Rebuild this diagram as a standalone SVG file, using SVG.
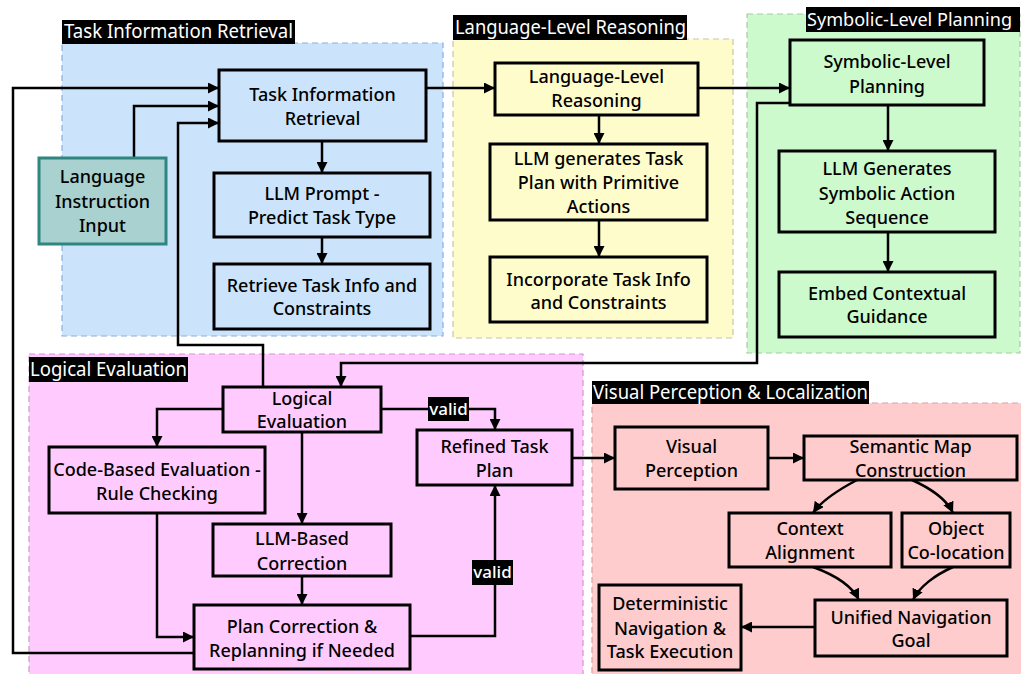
<svg xmlns="http://www.w3.org/2000/svg" width="1021" height="674" viewBox="0 0 1021 674">
<defs>
<marker id="ah" viewBox="0 0 10 10" refX="10" refY="5" markerWidth="11" markerHeight="11" markerUnits="userSpaceOnUse" orient="auto">
<path d="M0,0 L10,5 L0,10 z" fill="#000"/>
</marker>
<style>
.cl{stroke-width:1.2;stroke-dasharray:6 4}
.nd{stroke:#000;stroke-width:3}
.t{font-family:"Noto Sans","Open Sans","DejaVu Sans",sans-serif;font-size:18px;font-weight:500;fill:#000;text-anchor:middle}
.tt{font-family:"Noto Sans","Open Sans","DejaVu Sans",sans-serif;font-size:19px;fill:#fff}
.cn path{fill:none;stroke:#000;stroke-width:2.5;marker-end:url(#ah)}
.vl{font-family:"Noto Sans","Open Sans","DejaVu Sans",sans-serif;font-size:17px;font-weight:500;fill:#fff;text-anchor:middle}
</style>
</defs>
<rect width="1021" height="674" fill="#fff"/>
<g id="clusters">
<rect class="cl" x="62" y="43" width="381" height="293" fill="#cce4fb" stroke="#86b0dc"/>
<rect class="cl" x="453" y="39" width="280" height="299" fill="#fffccc" stroke="#c9c3a4"/>
<rect class="cl" x="747" y="14" width="273" height="339" fill="#ccfacc" stroke="#a7c9a7"/>
<rect class="cl" x="29" y="354" width="554" height="330" fill="#ffcbff" stroke="#c99ac9"/>
<rect class="cl" x="592" y="403" width="440" height="290" fill="#fecccc" stroke="#d7a4a4"/>
</g>
<g id="cluster-labels">
<rect x="62" y="20" width="233" height="24" fill="#000"/>
<text class="tt" x="64" y="38" textLength="229" lengthAdjust="spacingAndGlyphs">Task Information Retrieval</text>
<rect x="453" y="15" width="234" height="25" fill="#000"/>
<text class="tt" x="455" y="34" textLength="231" lengthAdjust="spacingAndGlyphs">Language-Level Reasoning</text>
<rect x="806" y="7" width="214" height="25" fill="#000"/>
<text class="tt" x="807" y="26" style="font-size:18px" textLength="205" lengthAdjust="spacingAndGlyphs">Symbolic-Level Planning</text>
<rect x="29" y="357" width="159" height="25" fill="#000"/>
<text class="tt" x="30" y="376" textLength="157" lengthAdjust="spacingAndGlyphs">Logical Evaluation</text>
<rect x="592" y="381" width="277" height="23" fill="#000"/>
<text class="tt" x="593" y="399" textLength="275" lengthAdjust="spacingAndGlyphs">Visual Perception &amp; Localization</text>
</g>
<g id="connectors" class="cn">
<path d="M134,158 V106 H219"/>
<path d="M194,653 H13 V88 H219"/>
<path d="M263,387 V345 H178 V123 H219"/>
<path d="M322,141 V173"/>
<path d="M322,237 V264"/>
<path d="M426,88 H495"/>
<path d="M599,115 V144"/>
<path d="M599,220 V257"/>
<path d="M698,88 H790"/>
<path d="M888,105 V151"/>
<path d="M888,232 V272"/>
<path d="M790,103 H757 V363 H341 V387"/>
<path d="M223,409 H157 V447"/>
<path d="M302,432 V524"/>
<path d="M302,576 V605"/>
<path d="M157,513 V637 H194"/>
<path d="M381,409 H495 V430"/>
<path d="M410,636 H495 V485"/>
<path d="M572,458 H615"/>
<path d="M768,458 H804"/>
<path d="M857,480 C838,490 822,500 813,513"/>
<path d="M912,480 C932,489 947,500 953,513"/>
<path d="M813,567 C835,575 852,586 859,600"/>
<path d="M953,567 C935,575 919,587 913,600"/>
<path d="M815,627 H741"/>
</g>
<g id="edge-labels">
<rect x="428" y="397" width="41" height="24" fill="#000"/>
<text class="vl" x="448.5" y="415">valid</text>
<rect x="472" y="560" width="41" height="25" fill="#000"/>
<text class="vl" x="492.5" y="578">valid</text>
</g>
<g id="n-tir"><rect class="nd" x="219" y="70" width="207" height="71" fill="#cce4fb"/><text class="t" x="322.5" y="101">Task Information</text><text class="t" x="322.5" y="125">Retrieval</text></g>
<g id="n-prompt"><rect class="nd" x="214" y="173" width="216" height="64" fill="#cce4fb"/><text class="t" x="322" y="200">LLM Prompt -</text><text class="t" x="322" y="224">Predict Task Type</text></g>
<g id="n-retrieve"><rect class="nd" x="214" y="264" width="216" height="65" fill="#cce4fb"/><text class="t" x="322" y="292">Retrieve Task Info and</text><text class="t" x="322" y="315">Constraints</text></g>
<g id="n-input"><rect x="39" y="158" width="127" height="86" fill="#a9d1cf" stroke="#2f8580" stroke-width="3"/><text class="t" x="102.5" y="183">Language</text><text class="t" x="102.5" y="208">Instruction</text><text class="t" x="102.5" y="232">Input</text></g>
<g id="n-llr"><rect class="nd" x="495" y="63" width="203" height="52" fill="#fffccc"/><text class="t" x="596.5" y="83">Language-Level</text><text class="t" x="596.5" y="107">Reasoning</text></g>
<g id="n-gen"><rect class="nd" x="490" y="144" width="217" height="76" fill="#fffccc"/><text class="t" x="598.5" y="165">LLM generates Task</text><text class="t" x="598.5" y="189">Plan with Primitive</text><text class="t" x="598.5" y="213">Actions</text></g>
<g id="n-incorp"><rect class="nd" x="490" y="257" width="217" height="65" fill="#fffccc"/><text class="t" x="598.5" y="286">Incorporate Task Info</text><text class="t" x="598.5" y="309">and Constraints</text></g>
<g id="n-slp"><rect class="nd" x="790" y="40" width="194" height="65" fill="#ccfacc"/><text class="t" x="887" y="68">Symbolic-Level</text><text class="t" x="887" y="93">Planning</text></g>
<g id="n-sym"><rect class="nd" x="779" y="151" width="216" height="81" fill="#ccfacc"/><text class="t" x="887" y="175">LLM Generates</text><text class="t" x="887" y="200">Symbolic Action</text><text class="t" x="887" y="224">Sequence</text></g>
<g id="n-embed"><rect class="nd" x="779" y="272" width="216" height="65" fill="#ccfacc"/><text class="t" x="887" y="300">Embed Contextual</text><text class="t" x="887" y="323">Guidance</text></g>
<g id="n-le"><rect class="nd" x="223" y="387" width="158" height="45" fill="#ffcbff"/><text class="t" x="302" y="405">Logical</text><text class="t" x="302" y="428">Evaluation</text></g>
<g id="n-code"><rect class="nd" x="49" y="447" width="216" height="66" fill="#ffcbff"/><text class="t" x="157" y="476">Code-Based Evaluation -</text><text class="t" x="157" y="500">Rule Checking</text></g>
<g id="n-llmcorr"><rect class="nd" x="213" y="524" width="178" height="52" fill="#ffcbff"/><text class="t" x="302" y="545">LLM-Based</text><text class="t" x="302" y="570">Correction</text></g>
<g id="n-pc"><rect class="nd" x="194" y="605" width="216" height="64" fill="#ffcbff"/><text class="t" x="302" y="633">Plan Correction &amp;</text><text class="t" x="302" y="657">Replanning if Needed</text></g>
<g id="n-refined"><rect class="nd" x="417" y="430" width="155" height="55" fill="#ffcbff"/><text class="t" x="494.5" y="453">Refined Task</text><text class="t" x="494.5" y="477">Plan</text></g>
<g id="n-vp"><rect class="nd" x="615" y="427" width="153" height="62" fill="#fecccc"/><text class="t" x="691.5" y="453">Visual</text><text class="t" x="691.5" y="477">Perception</text></g>
<g id="n-smc"><rect class="nd" x="804" y="436" width="213" height="44" fill="#fecccc"/><text class="t" x="910.5" y="453">Semantic Map</text><text class="t" x="910.5" y="477">Construction</text></g>
<g id="n-ctx"><rect class="nd" x="729" y="513" width="162" height="54" fill="#fecccc"/><text class="t" x="810" y="535">Context</text><text class="t" x="810" y="559">Alignment</text></g>
<g id="n-obj"><rect class="nd" x="902" y="513" width="108" height="54" fill="#fecccc"/><text class="t" x="956" y="535">Object</text><text class="t" x="956" y="559">Co-location</text></g>
<g id="n-ung"><rect class="nd" x="815" y="600" width="192" height="56" fill="#fecccc"/><text class="t" x="911" y="624">Unified Navigation</text><text class="t" x="911" y="647">Goal</text></g>
<g id="n-det"><rect class="nd" x="599" y="585" width="142" height="85" fill="#fecccc"/><text class="t" x="670" y="610">Deterministic</text><text class="t" x="670" y="635">Navigation &amp;</text><text class="t" x="670" y="658">Task Execution</text></g>
</svg>
